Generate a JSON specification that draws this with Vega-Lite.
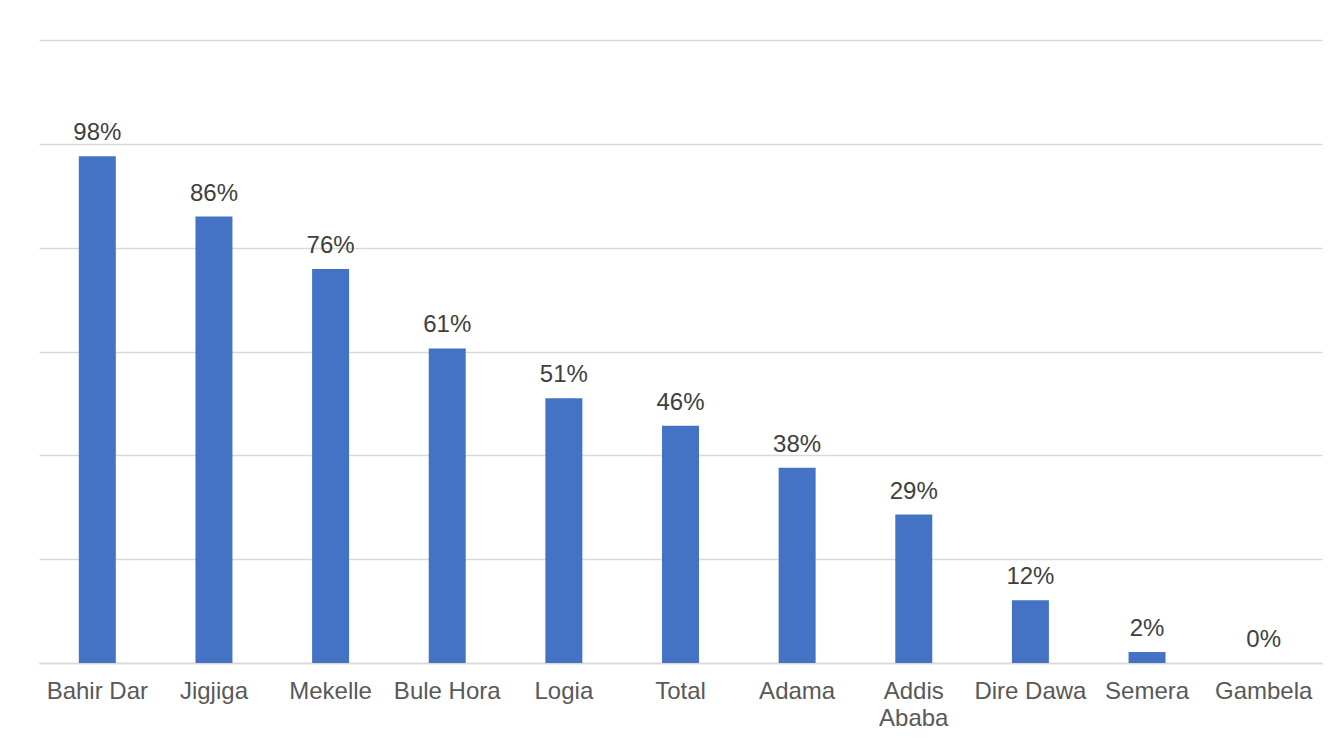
{
  "$schema": "https://vega.github.io/schema/vega-lite/v6.json",
  "autosize": {"type": "none"},
  "padding": {"left": 39, "top": 40, "right": 19, "bottom": 77},
  "width": 1283,
  "height": 623,
  "background": "white",
  "config": {
    "view": {"stroke": null},
    "font": "Liberation Sans"
  },
  "data": {
    "values": [
      {"site": "Bahir Dar", "share": 0.976},
      {"site": "Jigjiga", "share": 0.86},
      {"site": "Mekelle", "share": 0.759},
      {"site": "Bule Hora", "share": 0.606},
      {"site": "Logia", "share": 0.51},
      {"site": "Total", "share": 0.457},
      {"site": "Adama", "share": 0.376},
      {"site": "Addis Ababa", "share": 0.286},
      {"site": "Dire Dawa", "share": 0.121},
      {"site": "Semera", "share": 0.021},
      {"site": "Gambela", "share": 0.0}
    ]
  },
  "encoding": {
    "x": {
      "field": "site",
      "type": "nominal",
      "sort": null,
      "scale": {"paddingInner": 0.683, "paddingOuter": 0.3415},
      "axis": {
        "title": null,
        "labelAngle": 0,
        "ticks": false,
        "domainColor": "#d9d9d9",
        "domainWidth": 1.5,
        "labelFont": "Liberation Sans",
        "labelFontSize": 24,
        "labelColor": "#595959",
        "labelPadding": 16,
        "labelLineHeight": 27,
        "labelExpr": "datum.label == 'Addis Ababa' ? ['Addis', 'Ababa'] : datum.label"
      }
    },
    "y": {
      "field": "share",
      "type": "quantitative",
      "scale": {"domain": [0, 1.2], "nice": false},
      "axis": {
        "title": null,
        "labels": false,
        "ticks": false,
        "domain": false,
        "values": [0, 0.2, 0.4, 0.6, 0.8, 1.0, 1.2],
        "gridColor": "#d9d9d9",
        "gridWidth": 1.5
      }
    }
  },
  "layer": [
    {"mark": {"type": "bar", "color": "#4472C4"}},
    {
      "mark": {"type": "text", "baseline": "alphabetic", "dy": -16, "fontSize": 24, "color": "#404040", "font": "Liberation Sans"},
      "encoding": {"text": {"field": "share", "format": ".0%"}}
    }
  ]
}
